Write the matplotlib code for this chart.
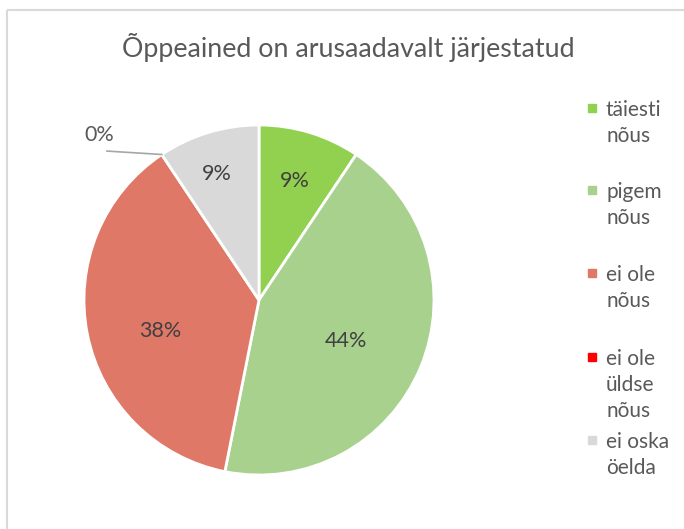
import numpy as np
import matplotlib.pyplot as plt
from matplotlib.patches import Rectangle

# andmed
kategooriad = ["täiesti\nnõus", "pigem\nnõus", "ei ole\nnõus", "ei ole\nüldse\nnõus", "ei oska\nöelda"]
vastused = [3, 14, 12, 0, 3]
varvid = ["#92D050", "#A9D18E", "#E07868", "#FF0000", "#D9D9D9"]
pealkiri = "Õppeained on arusaadavalt järjestatud"

plt.rcParams['font.family'] = ['Lato', 'DejaVu Sans']
tekst = "#595959"

fig = plt.figure(figsize=(6.84, 5.29), dpi=100)

# raam (vasak ja ülemine serv)
raam = fig.add_axes([0, 0, 1, 1])
raam.set_xlim(0, 684)
raam.set_ylim(529, 0)
raam.axis("off")
raam.add_patch(Rectangle((7, 10), 700, 540, fill=False, edgecolor="#D9D9D9", linewidth=1.5))

raam.text(348, 47, pealkiri, ha="center", va="center", fontsize=19.3, color=tekst)

# sektordiagramm
ax = fig.add_axes([(259 - 175) / 684, (529 - 475) / 529, 350 / 684, 350 / 529])
wedges, _ = ax.pie(vastused, colors=varvid, startangle=90, counterclock=False,
                   wedgeprops=dict(edgecolor="white", linewidth=2))
ax.set_xlim(-1, 1)
ax.set_ylim(-1, 1)
ax.set_aspect("equal")

kokku = sum(vastused)
kaugus = [0.71, 0.55, 0.59, 0.0, 0.76]
nihe = [0, -3, 6, 0, 1.5]  # kraadides
for w, v, d, n in zip(wedges, vastused, kaugus, nihe):
    if v == 0:
        continue
    nurk = np.deg2rad((w.theta1 + w.theta2) / 2 + n)
    ax.text(d * np.cos(nurk), d * np.sin(nurk), f"{round(100 * v / kokku)}%",
            ha="center", va="center", fontsize=15.5, color="#404040")

# 0% silt koos joonega
w0 = wedges[3]
a0 = np.deg2rad(w0.theta1)
ax.plot([-0.869, np.cos(a0)], [0.851, np.sin(a0)], color="#A6A6A6", linewidth=1.2, clip_on=False)
ax.text(-0.914, 0.943, "0%", ha="center", va="center", fontsize=15.5, color=tekst)

# legend
leg_y = [108, 190, 273, 357, 440]
for y, nimi, c in zip(leg_y, kategooriad, varvid):
    raam.plot(592, y, marker="s", markersize=6, color=c, linestyle="none")
    raam.text(606, y - 8, nimi, ha="left", va="top", fontsize=15, color=tekst, linespacing=1.38)

fig.savefig("out.png", dpi=100)
